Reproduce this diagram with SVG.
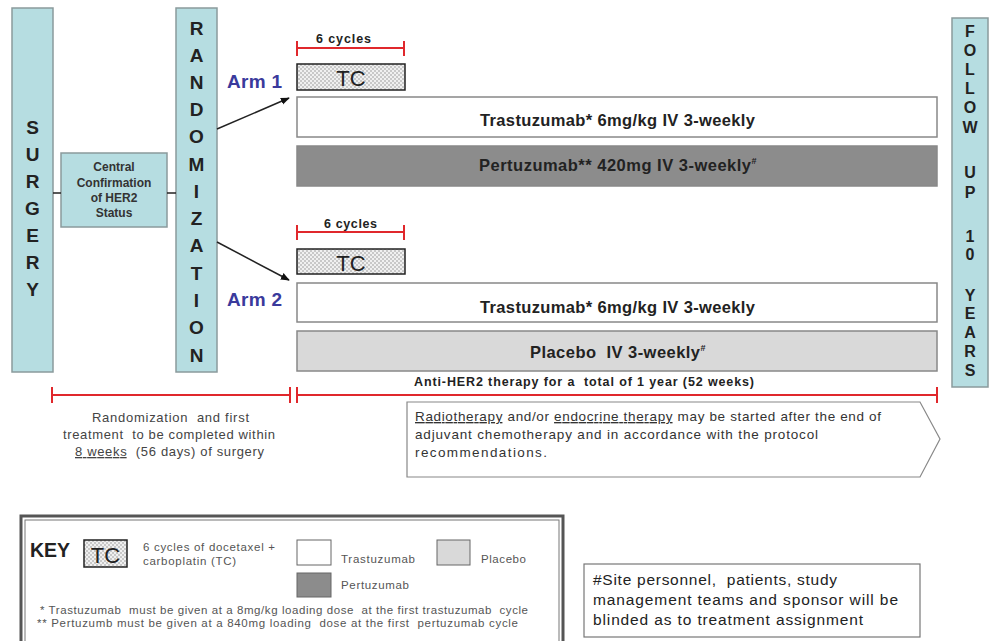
<svg xmlns="http://www.w3.org/2000/svg" width="989" height="641" viewBox="0 0 989 641">
<defs>
<pattern id="hatch" width="4" height="4" patternUnits="userSpaceOnUse">
<rect width="4" height="4" fill="#f0f0f0"/>
<rect width="2" height="2" fill="#c8c8c8"/>
<rect x="2" y="2" width="2" height="2" fill="#c8c8c8"/>
</pattern>
<marker id="arr" viewBox="0 0 10 10" refX="9" refY="5" markerWidth="6" markerHeight="6" orient="auto">
<path d="M0,1 L10,5 L0,9 Z" fill="#111"/>
</marker>
</defs>
<style>
text{font-family:"Liberation Sans",Arial,sans-serif}
.vbar{fill:#b6dde1;stroke:#8a9a9c;stroke-width:1.5}
.vl{font-weight:bold;font-size:19px;fill:#222;text-anchor:middle}
.fl{font-weight:bold;font-size:16px;fill:#222;text-anchor:middle}
.bar{stroke:#888;stroke-width:1.5}
.bt{font-weight:bold;font-size:16.5px;fill:#222}
.arm{font-weight:bold;font-size:19px;fill:#3a3a9c}
.red{stroke:#e0282c;stroke-width:2;fill:none}
.cyc{font-weight:bold;font-size:12.5px;fill:#222}
.tc{fill:url(#hatch);stroke:#222;stroke-width:1.5}
.tct{font-size:22px;fill:#222;text-anchor:middle}
.gt{font-size:13px;fill:#444}
.pt{font-size:13.5px;fill:#333}
.kt{font-size:11.5px;fill:#555}
.bl{font-size:15.5px;fill:#222}
.conn{stroke:#222;stroke-width:1.5;fill:none}
.ct{font-size:12px;font-weight:bold;fill:#333;text-anchor:middle}
</style>

<g id="surgery">
<rect class="vbar" x="12" y="8" width="41" height="364"/>
<text class="vl" x="32.5" y="134">S</text>
<text class="vl" x="32.5" y="161">U</text>
<text class="vl" x="32.5" y="188">R</text>
<text class="vl" x="32.5" y="215">G</text>
<text class="vl" x="32.5" y="242">E</text>
<text class="vl" x="32.5" y="269">R</text>
<text class="vl" x="32.5" y="296">Y</text>
</g>

<g id="central">
<rect class="vbar" x="61" y="153" width="106" height="74"/>
<text class="ct" x="114" y="171">Central</text>
<text class="ct" x="114" y="187">Confirmation</text>
<text class="ct" x="114" y="202">of HER2</text>
<text class="ct" x="114" y="217">Status</text>
</g>

<g id="randomization">
<rect class="vbar" x="176" y="8" width="41" height="364"/>
<text class="vl" x="196.5" y="35">R</text>
<text class="vl" x="196.5" y="62">A</text>
<text class="vl" x="196.5" y="89">N</text>
<text class="vl" x="196.5" y="116">D</text>
<text class="vl" x="196.5" y="143">O</text>
<text class="vl" x="196.5" y="171">M</text>
<text class="vl" x="196.5" y="198">I</text>
<text class="vl" x="196.5" y="225">Z</text>
<text class="vl" x="196.5" y="252">A</text>
<text class="vl" x="196.5" y="280">T</text>
<text class="vl" x="196.5" y="307">I</text>
<text class="vl" x="196.5" y="334">O</text>
<text class="vl" x="196.5" y="362">N</text>
</g>

<g id="followup">
<rect class="vbar" x="952" y="18" width="36" height="369"/>
<text class="fl" x="970" y="37">F</text>
<text class="fl" x="970" y="56">O</text>
<text class="fl" x="970" y="75">L</text>
<text class="fl" x="970" y="94">L</text>
<text class="fl" x="970" y="113">O</text>
<text class="fl" x="970" y="133">W</text>
<text class="fl" x="970" y="178">U</text>
<text class="fl" x="970" y="198">P</text>
<text class="fl" x="970" y="242">1</text>
<text class="fl" x="970" y="260">0</text>
<text class="fl" x="970" y="301">Y</text>
<text class="fl" x="970" y="319">E</text>
<text class="fl" x="970" y="338">A</text>
<text class="fl" x="970" y="357">R</text>
<text class="fl" x="970" y="376">S</text>
</g>

<g id="connectors">
<line class="conn" x1="53" y1="193" x2="61" y2="193"/>
<line class="conn" x1="167" y1="193" x2="176" y2="193"/>
<line class="conn" x1="217" y1="129" x2="289" y2="98" marker-end="url(#arr)"/>
<line class="conn" x1="217" y1="242" x2="289" y2="280" marker-end="url(#arr)"/>
</g>

<g id="arm1">
<text class="arm" x="227" y="88" textLength="55">Arm 1</text>
<line class="red" x1="297" y1="48" x2="404" y2="48"/>
<line class="red" x1="297" y1="41" x2="297" y2="56"/>
<line class="red" x1="404" y1="41" x2="404" y2="56"/>
<text class="cyc" x="316" y="43" textLength="55">6 cycles</text>
<rect class="tc" x="297" y="64" width="108" height="26"/>
<text class="tct" x="351" y="86">TC</text>
<rect class="bar" x="297" y="97" width="640" height="40" fill="#fff"/>
<text class="bt" x="480" y="126" textLength="275">Trastuzumab* 6mg/kg IV 3-weekly</text>
<rect class="bar" x="297" y="146" width="640" height="40" fill="#8c8c8c"/>
<text class="bt" x="479" y="171"><tspan textLength="272">Pertuzumab** 420mg IV 3-weekly</tspan><tspan font-size="9" dy="-7">#</tspan></text>
</g>

<g id="arm2">
<text class="arm" x="227" y="306" textLength="55">Arm 2</text>
<line class="red" x1="297" y1="232" x2="404" y2="232"/>
<line class="red" x1="297" y1="225" x2="297" y2="240"/>
<line class="red" x1="404" y1="225" x2="404" y2="240"/>
<text class="cyc" x="324" y="228" textLength="53">6 cycles</text>
<rect class="tc" x="297" y="249" width="108" height="25"/>
<text class="tct" x="351" y="271">TC</text>
<rect class="bar" x="297" y="283" width="640" height="39" fill="#fff"/>
<text class="bt" x="480" y="313" textLength="275">Trastuzumab* 6mg/kg IV 3-weekly</text>
<rect class="bar" x="297" y="331" width="640" height="40" fill="#d9d9d9"/>
<text class="bt" x="530" y="358" xml:space="preserve"><tspan textLength="170">Placebo  IV 3-weekly</tspan><tspan font-size="9" dy="-7">#</tspan></text>
</g>

<g id="timeline">
<line class="red" x1="52" y1="395" x2="290" y2="395"/>
<line class="red" x1="52" y1="387" x2="52" y2="403"/>
<line class="red" x1="290" y1="387" x2="290" y2="403"/>
<line class="red" x1="297" y1="395" x2="937" y2="395"/>
<line class="red" x1="297" y1="387" x2="297" y2="403"/>
<line class="red" x1="937" y1="387" x2="937" y2="403"/>
<text x="414" y="386" font-size="12.5" font-weight="bold" fill="#222" textLength="340" xml:space="preserve">Anti-HER2 therapy for a  total of 1 year (52 weeks)</text>
</g>

<g id="window-note">
<text class="gt" x="92" y="422" textLength="157" xml:space="preserve">Randomization  and first</text>
<text class="gt" x="63" y="439" textLength="212" xml:space="preserve">treatment  to be completed within</text>
<text class="gt" x="75" y="456" xml:space="preserve" textLength="189"><tspan text-decoration="underline">8 weeks</tspan>  (56 days) of surgery</text>
</g>

<g id="radiotherapy">
<path d="M407,402 L920,402 L940,439 L920,477 L407,477 Z" fill="#fff" stroke="#888" stroke-width="1.2"/>
<text class="pt" x="415" y="421" textLength="466"><tspan text-decoration="underline">Radiotherapy</tspan> and/or <tspan text-decoration="underline">endocrine therapy</tspan> may be started after the end of</text>
<text class="pt" x="415" y="439" textLength="403">adjuvant chemotherapy and in accordance with the protocol</text>
<text class="pt" x="415" y="457" textLength="132">recommendations.</text>
</g>

<g id="key">
<rect x="21" y="516" width="542" height="130" fill="#fff" stroke="#555" stroke-width="3"/>
<rect x="25" y="520" width="534" height="130" fill="none" stroke="#777" stroke-width="1"/>
<text x="30" y="557" font-size="19.5" font-weight="bold" fill="#222" textLength="40">KEY</text>
<rect class="tc" x="84" y="540" width="43" height="27"/>
<text x="105.5" y="563" font-size="22" fill="#222" text-anchor="middle">TC</text>
<text class="kt" x="143" y="551" textLength="132">6 cycles of docetaxel +</text>
<text class="kt" x="143" y="565" textLength="93">carboplatin (TC)</text>
<rect x="297" y="540" width="34" height="25" fill="#fff" stroke="#666" stroke-width="1"/>
<text class="kt" x="341" y="563" textLength="74">Trastuzumab</text>
<rect x="437" y="540" width="33" height="25" fill="#d9d9d9" stroke="#666" stroke-width="1"/>
<text class="kt" x="481" y="563" textLength="45">Placebo</text>
<rect x="297" y="573" width="34" height="24" fill="#8c8c8c" stroke="#666" stroke-width="1"/>
<text class="kt" x="341" y="589" textLength="68">Pertuzumab</text>
<text class="kt" x="40" y="614" textLength="488" xml:space="preserve">* Trastuzumab  must be given at a 8mg/kg loading dose  at the first trastuzumab  cycle</text>
<text class="kt" x="37" y="627" textLength="481" xml:space="preserve">** Pertuzumb must be given at a 840mg loading  dose at the first  pertuzumab cycle</text>
</g>

<g id="blinding">
<rect x="584" y="564" width="336" height="73" fill="#fff" stroke="#777" stroke-width="1.2"/>
<text class="bl" x="593" y="585" textLength="244" xml:space="preserve">#Site personnel,  patients, study</text>
<text class="bl" x="593" y="605" textLength="305">management teams and sponsor will be</text>
<text class="bl" x="593" y="625" textLength="270">blinded as to treatment assignment</text>
</g>
</svg>
